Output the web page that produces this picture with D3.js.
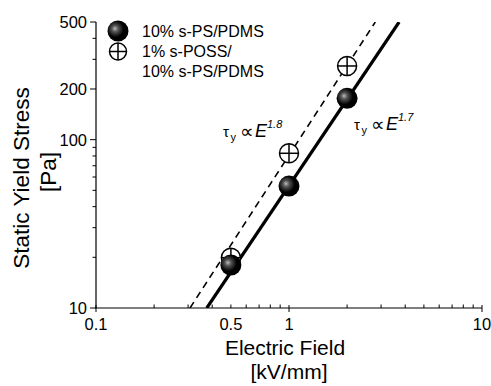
<!DOCTYPE html>
<html>
<head>
<meta charset="utf-8">
<script src="https://cdn.jsdelivr.net/npm/d3@7"></script>
<style>
  body { margin: 0; background: #fff; }
  text { font-family: "Liberation Sans", Arial, sans-serif; fill: #000; }
</style>
</head>
<body>
<svg id="chart" width="491" height="386"></svg>
<script>
// data
const fields = [0.5, 1, 2];                 // kV/mm
const stressPS = [18, 53, 176];             // 10% s-PS/PDMS
const stressPOSS = [19.9, 83, 274];         // 1% s-POSS / 10% s-PS/PDMS
const fitPS = [[0.375, 10], [3.72, 500]];   // solid line, slope 1.7
const fitPOSS = [[0.307, 10], [2.8, 500]];  // dashed line, slope 1.8
const yLabelTicks = [10, 100, 200, 500];
const xLabelTicks = [0.1, 0.5, 1, 10];

const plotL = 96, plotR = 482, plotT = 22, plotB = 308;

const svg = d3.select("#chart");

const x = d3.scaleLog().domain([0.1, 10]).range([plotL, plotR]);
const y = d3.scaleLog().domain([10, 500]).range([plotB, plotT]);

const defs = svg.append("defs");
const grad = defs.append("radialGradient")
  .attr("id", "ball")
  .attr("cx", "40%").attr("cy", "42%").attr("r", "60%")
  .attr("fx", "35%").attr("fy", "38%");
grad.append("stop").attr("offset", "0%").attr("stop-color", "#bbb");
grad.append("stop").attr("offset", "25%").attr("stop-color", "#555");
grad.append("stop").attr("offset", "65%").attr("stop-color", "#000");
grad.append("stop").attr("offset", "100%").attr("stop-color", "#000");

defs.append("clipPath").attr("id", "plot")
  .append("rect").attr("x", plotL).attr("y", plotT)
  .attr("width", plotR - plotL).attr("height", plotB - plotT);

// y axis
const yMinor = [20, 30, 40, 50, 60, 70, 80, 90, 300, 400];
const yAxis = svg.append("g");
yAxis.append("line")
  .attr("x1", plotL).attr("x2", plotL)
  .attr("y1", y(500)).attr("y2", y(10))
  .attr("stroke", "#000").attr("stroke-width", 1.2);
yAxis.selectAll(".maj").data(yLabelTicks).join("line")
  .attr("class", "maj")
  .attr("x1", plotL - 6).attr("x2", plotL)
  .attr("y1", d => y(d)).attr("y2", d => y(d))
  .attr("stroke", "#000");
yAxis.selectAll(".min").data(yMinor).join("line")
  .attr("class", "min")
  .attr("x1", plotL - 3.5).attr("x2", plotL)
  .attr("y1", d => y(d)).attr("y2", d => y(d))
  .attr("stroke", "#000");
yAxis.selectAll("text").data(yLabelTicks).join("text")
  .attr("x", plotL - 9).attr("y", d => y(d) + 6)
  .attr("text-anchor", "end").attr("font-size", 16.5)
  .text(d => d);

// x axis
const xMinor = [0.2, 0.3, 0.4, 0.5, 0.6, 0.7, 0.8, 0.9, 2, 3, 4, 5, 6, 7, 8, 9];
const xAxis = svg.append("g");
xAxis.append("line")
  .attr("x1", x(0.1) - 1).attr("x2", x(10))
  .attr("y1", plotB).attr("y2", plotB)
  .attr("stroke", "#000").attr("stroke-width", 1.2);
xAxis.selectAll(".maj").data([0.1, 1, 10]).join("line")
  .attr("class", "maj")
  .attr("x1", d => x(d)).attr("x2", d => x(d))
  .attr("y1", plotB - 3).attr("y2", plotB + 4)
  .attr("stroke", "#000");
xAxis.selectAll(".min").data(xMinor).join("line")
  .attr("class", "min")
  .attr("x1", d => x(d)).attr("x2", d => x(d))
  .attr("y1", plotB - 3.5).attr("y2", plotB)
  .attr("stroke", "#000");
xAxis.selectAll("text").data(xLabelTicks).join("text")
  .attr("x", d => x(d)).attr("y", plotB + 22)
  .attr("text-anchor", "middle").attr("font-size", 16.5)
  .text(d => d);

// fit lines
const line = d3.line().x(d => x(d[0])).y(d => y(d[1]));
const plot = svg.append("g").attr("clip-path", "url(#plot)");
plot.append("path").datum(fitPOSS)
  .attr("d", line).attr("fill", "none")
  .attr("stroke", "#000").attr("stroke-width", 1.6)
  .attr("stroke-dasharray", "7,5");
plot.append("path").datum(fitPS)
  .attr("d", line).attr("fill", "none")
  .attr("stroke", "#000").attr("stroke-width", 3.2);

// markers
function crossMarker(g, cx, cy, r) {
  g.append("circle").attr("cx", cx).attr("cy", cy).attr("r", r)
    .attr("fill", "#fff").attr("stroke", "#000").attr("stroke-width", 1.5);
  g.append("line").attr("x1", cx - r).attr("x2", cx + r)
    .attr("y1", cy).attr("y2", cy).attr("stroke", "#000").attr("stroke-width", 1.5);
  g.append("line").attr("x1", cx).attr("x2", cx)
    .attr("y1", cy - r).attr("y2", cy + r).attr("stroke", "#000").attr("stroke-width", 1.5);
}
const marks = svg.append("g");
fields.forEach((f, i) => crossMarker(marks, x(f), y(stressPOSS[i]), 9.5));
marks.selectAll(".ball").data(fields).join("circle")
  .attr("class", "ball")
  .attr("cx", d => x(d)).attr("cy", (d, i) => y(stressPS[i]))
  .attr("r", 10.5).attr("fill", "url(#ball)");

// legend
const lg = svg.append("g");
lg.append("circle").attr("cx", 118).attr("cy", 31).attr("r", 10.5).attr("fill", "url(#ball)");
crossMarker(lg, 118, 51.5, 8.5);
const legendLines = [["10% s-PS/PDMS", 37], ["1% s-POSS/", 57], ["10% s-PS/PDMS", 77]];
lg.selectAll("text").data(legendLines).join("text")
  .attr("x", 142).attr("y", d => d[1]).attr("font-size", 16)
  .text(d => d[0]);

// power-law annotations
function powerLabel(tx, ty, expo) {
  const g = svg.append("g");
  g.append("text").attr("x", tx).attr("y", ty).attr("font-size", 15).text("τ");
  g.append("text").attr("x", tx + 7.5).attr("y", ty + 4).attr("font-size", 11).text("y");
  g.append("text").attr("x", tx + 17).attr("y", ty + 1).attr("font-size", 19)
    .attr("font-family", "DejaVu Sans").text("∝");
  g.append("text").attr("x", tx + 32).attr("y", ty).attr("font-size", 18)
    .attr("font-style", "italic").text("E");
  g.append("text").attr("x", tx + 44).attr("y", ty - 9).attr("font-size", 11)
    .attr("font-style", "italic").text(expo);
}
powerLabel(223, 137, "1.8");
powerLabel(354, 130, "1.7");

// axis titles
svg.append("text").attr("x", 285).attr("y", 355).attr("text-anchor", "middle")
  .attr("font-size", 21).text("Electric Field");
svg.append("text").attr("x", 289).attr("y", 379).attr("text-anchor", "middle")
  .attr("font-size", 21).text("[kV/mm]");
svg.append("text").attr("transform", "translate(29,178) rotate(-90)")
  .attr("text-anchor", "middle").attr("font-size", 22.5).text("Static Yield Stress");
svg.append("text").attr("transform", "translate(56,172) rotate(-90)")
  .attr("text-anchor", "middle").attr("font-size", 22.5).text("[Pa]");
</script>
</body>
</html>
